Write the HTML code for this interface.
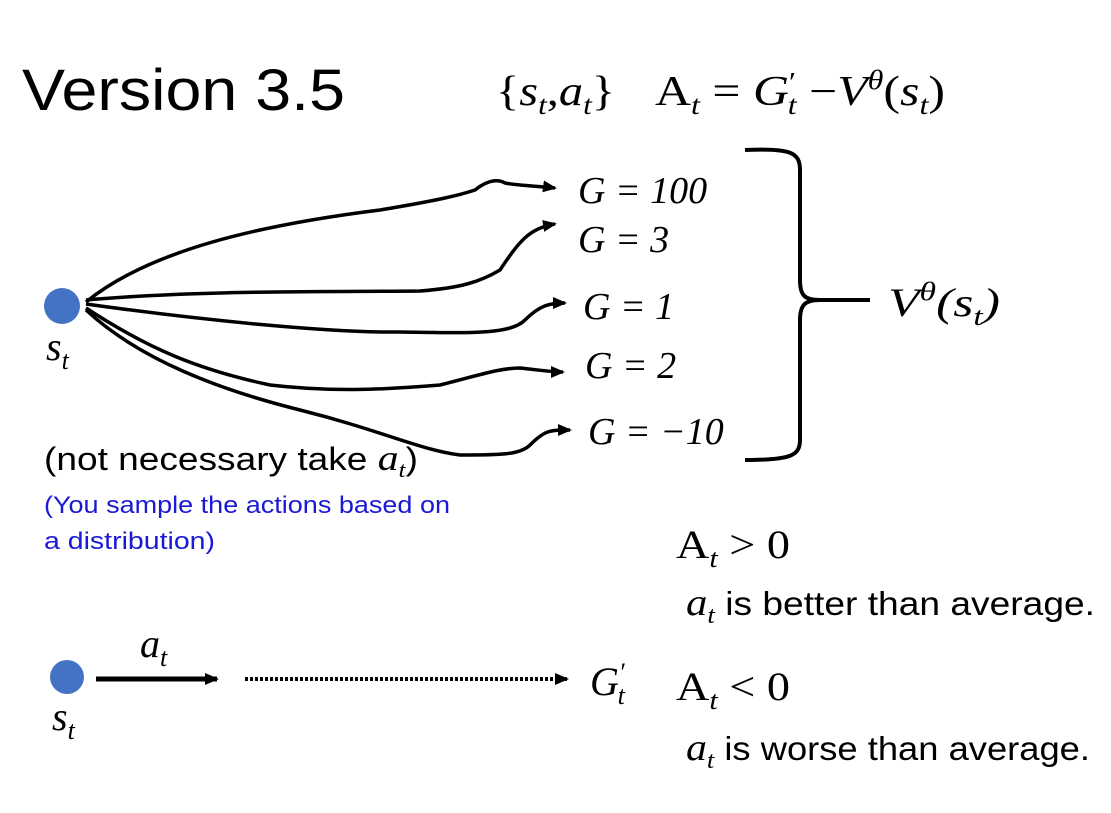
<!DOCTYPE html>
<html><head><meta charset="utf-8"><style>
html,body{margin:0;padding:0;background:#fff;}
svg{display:block}
.s{font-family:"Liberation Sans",sans-serif}
.m{font-family:"Liberation Serif",serif;font-style:italic}
.r{font-family:"Liberation Serif",serif}
</style></head><body>
<svg width="1111" height="813" viewBox="0 0 1111 813" xmlns="http://www.w3.org/2000/svg">
<defs>
<marker id="ah" markerWidth="14" markerHeight="12" refX="12" refY="6" orient="auto" markerUnits="userSpaceOnUse"><path d="M0,0 L14,6 L0,12 z" fill="#000"/></marker>
</defs>
<text x="22" y="110" class="s" font-size="58" textLength="323" lengthAdjust="spacingAndGlyphs">Version 3.5</text>
<!-- formula -->
<text x="496" y="105" class="r" font-size="42" textLength="119" lengthAdjust="spacingAndGlyphs">{<tspan class="m">s</tspan><tspan class="m" font-size="27" dy="9">t</tspan><tspan dy="-9">,</tspan><tspan class="m">a</tspan><tspan class="m" font-size="27" dy="9">t</tspan><tspan dy="-9">}</tspan></text>
<text x="655" y="105" class="r" font-size="42" textLength="290" lengthAdjust="spacingAndGlyphs">A<tspan class="m" font-size="27" dy="9">t</tspan><tspan dy="-9">  = </tspan><tspan class="m">G</tspan><tspan font-size="27" dy="-14">′</tspan><tspan class="m" font-size="27" dy="23" dx="-7">t</tspan><tspan dy="-9"> −</tspan><tspan class="m">V</tspan><tspan class="m" font-size="27" dy="-16">θ</tspan><tspan dy="16">(</tspan><tspan class="m">s</tspan><tspan class="m" font-size="27" dy="9">t</tspan><tspan dy="-9">)</tspan></text>
<!-- dot -->
<circle cx="62" cy="306" r="18" fill="#4472c4"/>
<text x="46" y="360" class="m" font-size="40">s<tspan font-size="26" dy="9">t</tspan></text>
<g fill="none" stroke="#000" stroke-width="3.5" marker-end="url(#ah)">
<path d="M86,302 C150,250 260,225 380,210 C440,200 460,195 475,190 C490,178 500,180 505,183 C520,186 540,186 555,188"/>
<path d="M86,300 C200,290 330,292 420,291 C460,288 480,282 500,270 C520,240 530,228 555,224"/>
<path d="M86,304 C200,320 330,333 400,332 C470,333 510,335 525,320 C540,305 550,303 565,303"/>
<path d="M86,308 C150,350 200,370 270,385 C330,392 380,390 440,385 C480,375 500,368 520,368 C540,370 550,372 563,372"/>
<path d="M86,310 C140,360 220,390 300,410 C380,430 420,450 460,455 C500,455 520,455 530,445 C545,430 550,430 570,430"/>
</g>
<g class="m" font-size="38">
<text x="578" y="203">G <tspan class="r">= 100</tspan></text>
<text x="578" y="252">G <tspan class="r">= 3</tspan></text>
<text x="583" y="319">G <tspan class="r">= 1</tspan></text>
<text x="585" y="378">G <tspan class="r">= 2</tspan></text>
<text x="588" y="444">G <tspan class="r">= −10</tspan></text>
</g>
<!-- bracket -->
<path d="M745,150 C790,148 800,152 800,170 L800,280 C800,296 805,300 820,300 L870,300 M820,300 C805,300 800,305 800,320 L800,440 C800,456 790,460 745,460" fill="none" stroke="#000" stroke-width="4"/>
<text x="888" y="316" class="m" font-size="40" textLength="112" lengthAdjust="spacingAndGlyphs">V<tspan font-size="26" dy="-16">θ</tspan><tspan class="r" dy="16">(</tspan>s<tspan font-size="26" dy="9">t</tspan><tspan class="r" dy="-9">)</tspan></text>
<!-- notes -->
<text x="44" y="470" class="s" font-size="32" textLength="374" lengthAdjust="spacingAndGlyphs">(not necessary take <tspan class="m" font-size="36">a</tspan><tspan class="m" font-size="22" dy="7">t</tspan><tspan dy="-7">)</tspan></text>
<text x="44" y="513" class="s" font-size="24" fill="#1a1ad6" textLength="406" lengthAdjust="spacingAndGlyphs">(You sample the actions based on</text>
<text x="44" y="549" class="s" font-size="24" fill="#1a1ad6" textLength="171" lengthAdjust="spacingAndGlyphs">a distribution)</text>
<!-- bottom -->
<circle cx="67" cy="677" r="17" fill="#4472c4"/>
<text x="52" y="730" class="m" font-size="40">s<tspan font-size="26" dy="9">t</tspan></text>
<text x="140" y="657" class="m" font-size="40">a<tspan font-size="26" dy="9">t</tspan></text>
<line x1="96" y1="679" x2="217" y2="679" stroke="#000" stroke-width="5" marker-end="url(#ah)"/>
<line x1="245" y1="679" x2="567" y2="679" stroke="#000" stroke-width="4" stroke-dasharray="3,2" marker-end="url(#ah)"/>
<text x="590" y="695" class="m" font-size="40">G<tspan class="r" font-size="26" dy="-14">′</tspan><tspan font-size="26" dy="23" dx="-7">t</tspan></text>
<text x="676" y="558" class="r" font-size="40" textLength="114" lengthAdjust="spacingAndGlyphs">A<tspan class="m" font-size="26" dy="9">t</tspan><tspan dy="-9"> &gt; 0</tspan></text>
<text x="676" y="700" class="r" font-size="40" textLength="114" lengthAdjust="spacingAndGlyphs">A<tspan class="m" font-size="26" dy="9">t</tspan><tspan dy="-9"> &lt; 0</tspan></text>
<text x="686" y="615" class="s" font-size="33" textLength="409" lengthAdjust="spacingAndGlyphs"><tspan class="m" font-size="38">a</tspan><tspan class="m" font-size="24" dy="8">t</tspan><tspan dy="-8"> is better than average.</tspan></text>
<text x="686" y="760" class="s" font-size="33" textLength="404" lengthAdjust="spacingAndGlyphs"><tspan class="m" font-size="38">a</tspan><tspan class="m" font-size="24" dy="8">t</tspan><tspan dy="-8"> is worse than average.</tspan></text>
</svg>
</body></html>
